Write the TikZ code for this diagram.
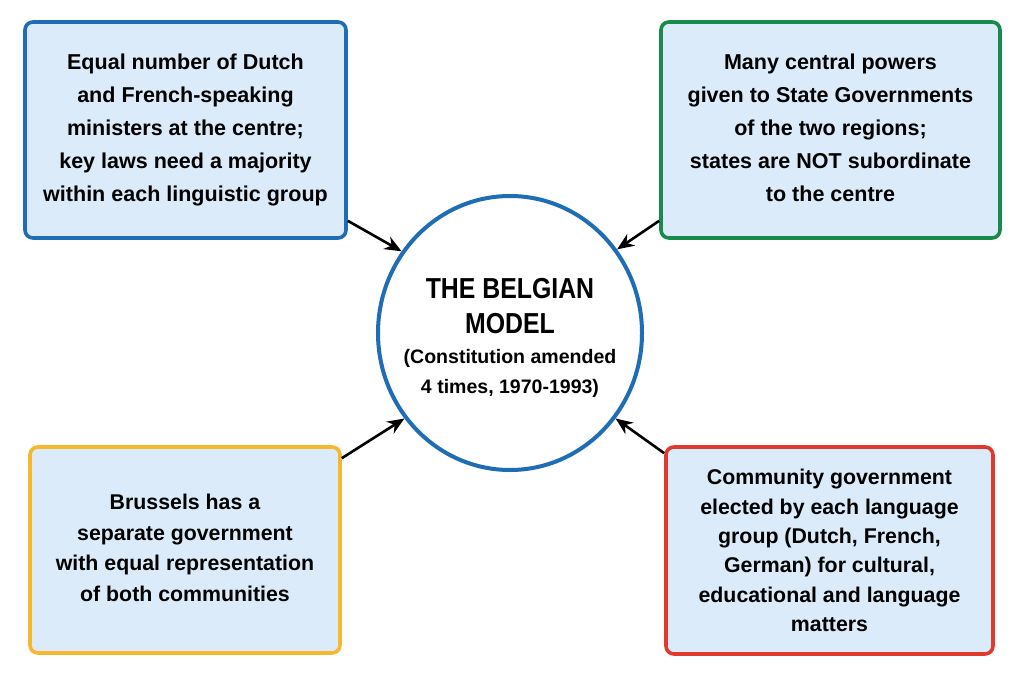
\documentclass[tikz,border=0pt]{standalone}
\usepackage{fontspec}
\setmainfont{Liberation Sans}
\newfontfamily\titlefont{Liberation Sans}[FakeStretch=0.86]
\usetikzlibrary{arrows.meta,shapes.geometric,calc}
\definecolor{boxfill}{HTML}{DCEBF9}
\definecolor{ruleblue}{HTML}{1E6DB5}
\definecolor{rulegreen}{HTML}{178A4C}
\definecolor{ruleyellow}{HTML}{F6B82C}
\definecolor{rulered}{HTML}{E03A2F}
\begin{document}
\begin{tikzpicture}[x = 1bp, y = -1bp, text = black,
  infobox/.style = {draw, line width = 3.6bp, rounded corners = 8bp, fill = boxfill,
    align = center, inner sep = 0pt, font = \bfseries\fontsize{21.6}{33}\selectfont},
  link/.style = {-{Stealth[length = 17bp, width = 14bp]}, line width = 2.6bp}]
\useasboundingbox [fill = white] (0, 0) rectangle (1024, 683);

\node [infobox, draw = ruleblue, minimum width = 321bp, minimum height = 216bp] (dutch) at (185.5, 130)
  {Equal number of Dutch\\and French-speaking\\ministers at the centre;\\key laws need a majority\\within each linguistic group};
\node [infobox, draw = rulegreen, minimum width = 339bp, minimum height = 216bp] (states) at (830.5, 130)
  {Many central powers\\given to State Governments\\of the two regions;\\states are NOT subordinate\\to the centre\vphantom{gy}};
\node [infobox, draw = ruleyellow, minimum width = 310bp, minimum height = 206bp,
  font = \bfseries\fontsize{21.4}{30.5}\selectfont] (brussels) at (185, 550)
  {Brussels has a\\separate government\\with equal representation\\of both communities\vphantom{gy}};
\node [infobox, draw = rulered, minimum width = 327bp, minimum height = 207bp,
  font = \bfseries\fontsize{21.4}{29.5}\selectfont] (community) at (829.5, 550.5)
  {Community government\\elected by each language\\group (Dutch, French,\\German) for cultural,\\educational and language\\matters};

\node [ellipse, draw = ruleblue, line width = 4bp, fill = white, minimum width = 264bp, minimum height = 274bp] (belgian) at (510, 333) {};
\node [align = center, inner sep = 0pt, font = \bfseries\fontsize{19.6}{29}\selectfont] (belgiantext) at ([yshift = -5bp] belgian.center)
  {{\titlefont\fontsize{29}{37}\selectfont THE BELGIAN}\\[6bp]{\titlefont\fontsize{29}{37}\selectfont MODEL}\\[1bp](Constitution amended\\[1bp]4 times, 1970-1993)};

\draw [link] ($(dutch.south east) + (0, -19)$) -- (belgian.143);
\draw [link] ($(states.south west) + (0, -19)$) -- (belgian.38);
\draw [link] ($(brussels.north east) + (0, 13)$) -- (belgian.219);
\draw [link] ($(community.north west) + (0, 8)$) -- (belgian.321);
\end{tikzpicture}
\end{document}
